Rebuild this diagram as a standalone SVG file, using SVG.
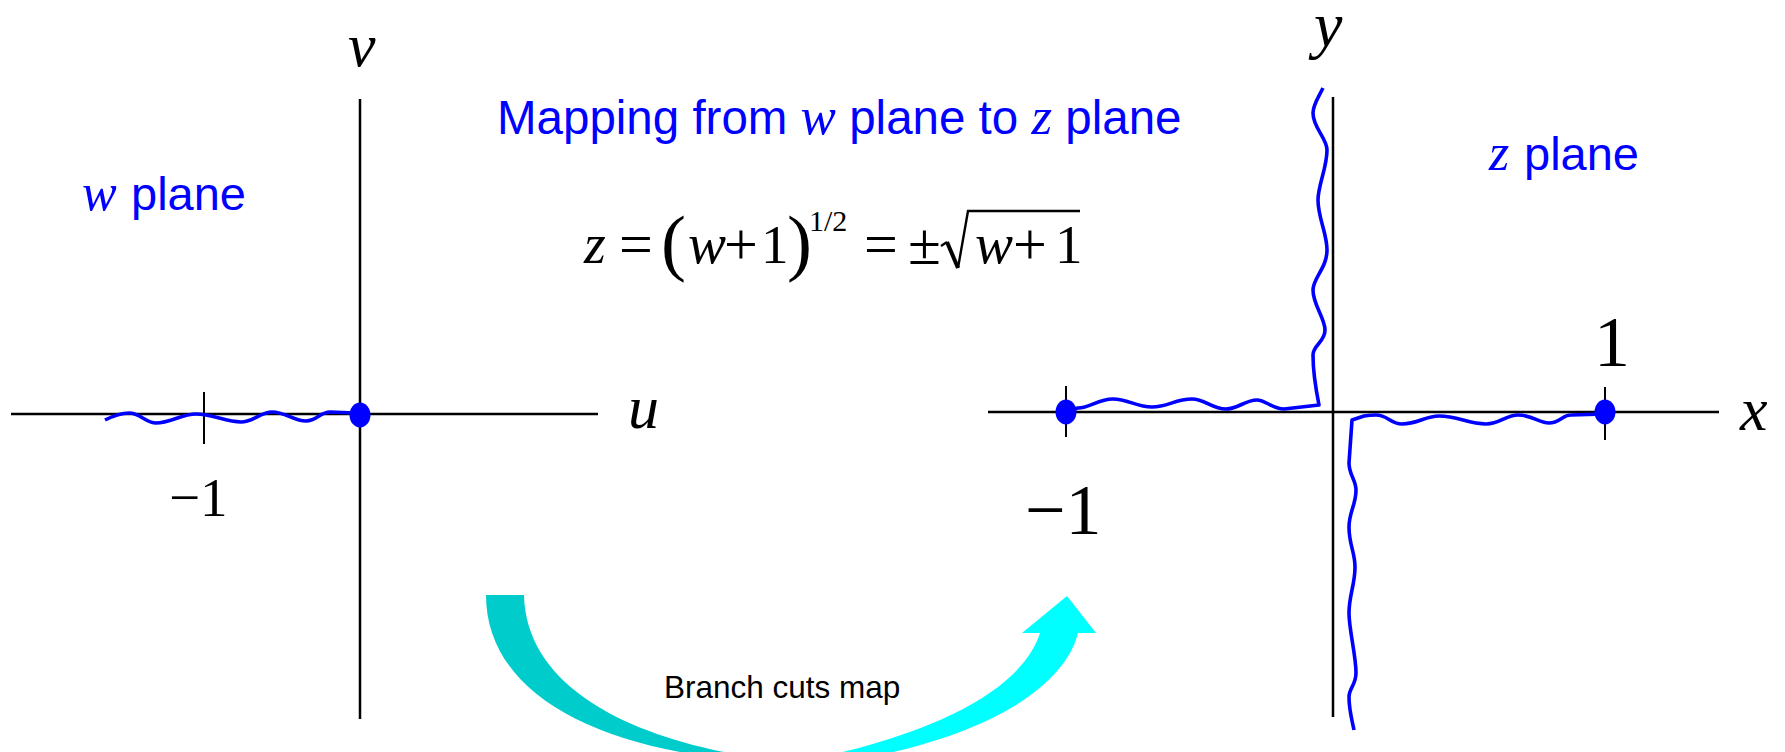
<svg xmlns="http://www.w3.org/2000/svg" width="1785" height="752" viewBox="0 0 1785 752">
<style>
.axis{stroke:#000;stroke-width:2.5;fill:none}
.tick{stroke:#000;stroke-width:2;fill:none}
.cut{stroke:#0000FF;stroke-width:3.6;fill:none;stroke-linejoin:round;stroke-linecap:butt}
.dot{fill:#0000FF}
.var{font-family:"Liberation Serif","Times New Roman",serif;font-style:italic;fill:#000}
.num{font-family:"Liberation Serif","Times New Roman",serif;fill:#000}
.blue{font-family:"Liberation Sans",Arial,sans-serif;fill:#0000FF}
.bluevar{font-family:"Liberation Serif","Times New Roman",serif;font-style:italic;fill:#0000FF}
.cap{font-family:"Liberation Sans",Arial,sans-serif;fill:#000}
</style>
<rect width="1785" height="752" fill="#fff"/>

<g id="w-plane">
  <line class="axis" x1="11" y1="414" x2="598" y2="414"/>
  <line class="axis" x1="360" y1="99" x2="360" y2="719"/>
  <line class="tick" x1="204" y1="392" x2="204" y2="444"/>
  <text class="var" x="348" y="66" font-size="62">v</text>
  <text class="var" x="628" y="428" font-size="62">u</text>
  <text class="num" x="169" y="516" font-size="55">−1</text>
  <text x="82" y="210" font-size="47"><tspan class="bluevar" font-size="52">w</tspan><tspan class="blue" x="131">plane</tspan></text>
</g>

<g id="z-plane">
  <line class="axis" x1="988" y1="412" x2="1719" y2="412"/>
  <line class="axis" x1="1333" y1="97" x2="1333" y2="717"/>
  <line class="tick" x1="1066" y1="386" x2="1066" y2="437"/>
  <line class="tick" x1="1605" y1="387" x2="1605" y2="440"/>
  <text class="var" x="1314" y="46" font-size="64">y</text>
  <text class="var" x="1740" y="430" font-size="62">x</text>
  <text class="num" x="1612" y="366" font-size="72" text-anchor="middle">1</text>
  <text class="num" x="1025" y="534" font-size="72">−1</text>
  <text x="1489" y="170" font-size="47"><tspan class="bluevar" font-size="52">z</tspan><tspan class="blue" x="1524">plane</tspan></text>
</g>

<g id="title">
  <text x="497" y="134" font-size="47.5"><tspan class="blue">Mapping from </tspan><tspan class="bluevar" font-size="53">w</tspan><tspan class="blue"> plane to </tspan><tspan class="bluevar" font-size="53">z</tspan><tspan class="blue"> plane</tspan></text>
</g>

<g id="equation">
  <text class="var" x="584" y="263" font-size="56">z</text>
  <text class="num" x="619" y="264" font-size="60">=</text>
  <text class="num" x="661" y="267" font-size="75">(</text>
  <text class="var" x="688" y="263" font-size="57">w</text>
  <text class="num" x="724" y="264" font-size="60">+</text>
  <text class="num" x="761" y="263" font-size="55">1</text>
  <text class="num" x="787" y="267" font-size="75">)</text>
  <text class="num" x="809" y="231" font-size="30">1/2</text>
  <text class="num" x="864" y="264" font-size="60">=</text>
  <text class="num" x="908" y="264" font-size="60">±</text>
  <path d="M941,246 L947,242" stroke="#000" stroke-width="2.2" fill="none"/>
  <path d="M947,242 L958,268" stroke="#000" stroke-width="4" fill="none"/>
  <path d="M958,268 L968,211 L1080,211" stroke="#000" stroke-width="2.4" fill="none"/>
  <text class="var" x="975" y="263" font-size="57">w</text>
  <text class="num" x="1013" y="264" font-size="60">+</text>
  <text class="num" x="1055" y="263" font-size="55">1</text>
</g>

<g id="cuts">
  <path class="cut" d="M105,420 C113,416 120,413 129,413 C140,413 146,423 156,423 C170,423 182,414 196,414 C212,414 226,422 241,422 C253,422 261,412 272,412 C285,412 294,421 306,421 C317,421 320,412 330,412 L355,413"/>
  <path class="cut" d="M1323,88 C1318,98 1313,105 1313,113 C1313,128 1327,138 1327,150 C1327,168 1318,185 1318,200 C1318,218 1327,233 1327,250 C1327,268 1313,278 1313,290 C1313,305 1325,318 1325,330 C1325,342 1313,345 1313,355 C1313,370 1316,390 1319,405 L1284,409 C1272,409 1266,400 1257,400 C1245,400 1238,409 1226,409 C1212,409 1205,399 1192,399 C1175,399 1168,407 1152,407 C1136,407 1128,399 1113,399 C1098,399 1090,408 1078,408 L1065,411"/>
  <path class="cut" d="M1354,730 C1352,720 1349,710 1349,697 C1349,688 1356,685 1356,673 C1356,655 1349,630 1349,613 C1349,595 1355,585 1355,567 C1355,552 1349,545 1349,527 C1349,512 1356,505 1356,490 C1356,480 1349,475 1349,463 L1352,420 L1364,416 C1370,415 1372,415 1376,415 C1388,415 1390,424 1402,424 C1418,424 1425,416 1439,416 C1458,416 1468,424 1486,424 C1500,424 1506,415 1518,415 C1533,415 1538,423 1549,423 C1560,423 1562,415 1571,415 L1605,414"/>
  <ellipse class="dot" cx="360" cy="415" rx="10.5" ry="12.5"/>
  <ellipse class="dot" cx="1066" cy="412" rx="10.5" ry="12.5"/>
  <ellipse class="dot" cx="1605" cy="412" rx="10.5" ry="12.5"/>
</g>

<g id="connectors">
  <path d="M486,595 L524,595 C526,685 625,735 740,755 L740,760 C590,747 486,690 486,595 Z" fill="#00CCCC"/>
  <path d="M830,755 C960,725 1025,680 1040,633 L1022,633 L1067,596 L1096,633 L1078,633 C1065,685 990,740 830,764 Z" fill="#00FFFF"/>
  <text class="cap" x="664" y="698" font-size="31.5">Branch cuts map</text>
</g>
</svg>
